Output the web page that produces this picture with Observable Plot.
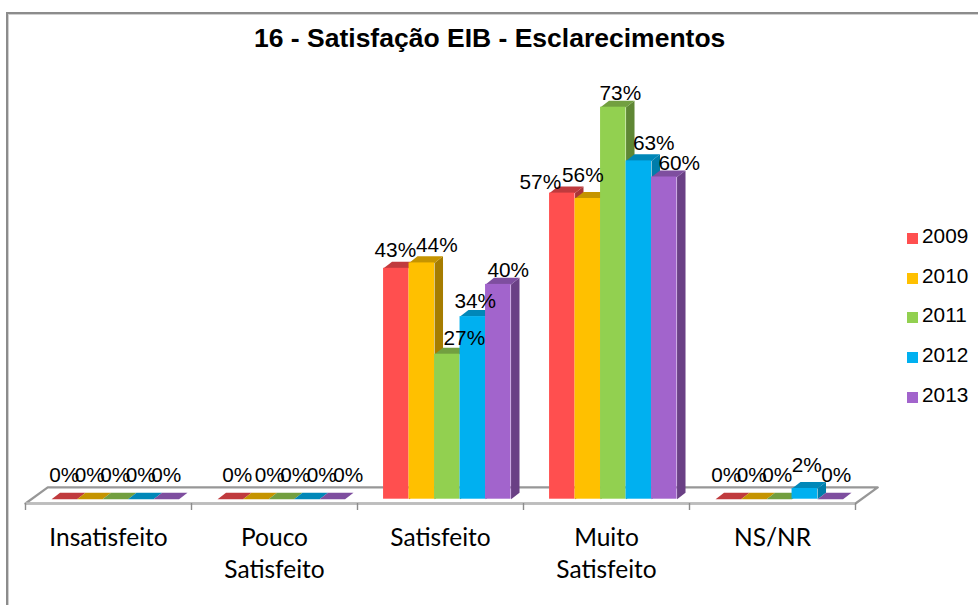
<!DOCTYPE html>
<html><head><meta charset="utf-8">
<script src="https://cdn.jsdelivr.net/npm/d3@7"></script>
<script src="https://cdn.jsdelivr.net/npm/@observablehq/plot@0.6"></script>
<style>
html,body{margin:0;padding:0;background:#fff;width:978px;height:605px;overflow:hidden}
#frame{position:absolute;left:6px;top:12px;width:980px;height:610px;border:2px solid #8c8c8c;box-sizing:border-box;box-shadow:inset 1px 1px 0 #d0d0d0}
#chart{position:absolute;left:0;top:0}
#title{position:absolute;left:254px;top:23px;font:bold 26.5px "Liberation Sans",Arial,sans-serif;color:#000;white-space:nowrap}
.lg{position:absolute;left:907px;font:20.8px "Liberation Sans",Arial,sans-serif;color:#000;height:24px;line-height:24px;white-space:nowrap}
.lg i{display:inline-block;width:11px;height:11px;margin-right:4px;vertical-align:-0.5px}
</style></head><body>
<div id="frame"></div>
<div id="chart"></div>
<div id="title">16 - Satisfação EIB - Esclarecimentos</div>
<div id="legend"></div>
<script>
const categories = ["Insatisfeito","Pouco\nSatisfeito","Satisfeito","Muito\nSatisfeito","NS/NR"];
const years = ["2009","2010","2011","2012","2013"];
const v2009 = [0,0,43,57,0];
const v2010 = [0,0,44,56,0];
const v2011 = [0,0,27,73,0];
const v2012 = [0,0,34,63,2];
const v2013 = [0,0,40,60,0];
const seriesValues = [v2009,v2010,v2011,v2012,v2013];

// styling
const front = ["#FF4F4F","#FFC000","#92D050","#00B0F0","#A264CC"];
const top3d = ["#C03A3D","#C59400","#729F40","#0087B8","#7E4E9F"];
const side3d = ["#A83538","#A67C00","#5F8734","#007DAA","#6A4085"];
// hand-placed data label nudges in the original (px), per category then series
const nudgeX = [[0,0,0,0,0],[7,14,14,15,16],[-1,15,17,2.5,10],[-22,-5,7,15,15],[-2,-2,-2,2,6]];
const nudgeY = [[-17,-17,-17,-17,-17],[-17,-17,-17,-17,-17],[-11,-10.7,-9.7,-8.3,-7],[-4.6,-16,-6.7,-10.4,-7.5],[-17,-17,-17,-16,-17]];

const labelSize = 20.8;
const pad = 0.157, bw = 0.1536, depthX = 0.051, depthY = 1.22;
const floorFront = -0.8, floorBack = 2.2, floorDepth = 0.134, tickEnd = -2.1;

const bars = [];
seriesValues.forEach((vals,s)=>vals.forEach((v,c)=>{
  const x1 = c+pad+s*bw, x2 = x1+bw;
  bars.push({c,s,v,x1,x2,label:v+"%",cx:(x1+x2)/2,
    dx:nudgeX[c][s],dy:nudgeY[c][s]-0.32*labelSize});
}));
const poly = (b,kind)=>{
  const {x1,x2,v}=b;
  const pts = kind==="top"
    ? [[x1,v],[x2,v],[x2+depthX,v+depthY],[x1+depthX,v+depthY],[x1,v]]
    : [[x2,0],[x2+depthX,depthY],[x2+depthX,v+depthY],[x2,v],[x2,0]];
  return pts.map(([x,y])=>({x,y,id:b.c}));
};
const barMarks = years.flatMap((y,s)=>{
  const bs = bars.filter(b=>b.s===s);
  return [
    Plot.line(bs.filter(b=>b.v>0).flatMap(b=>poly(b,"side")),{x:"x",y:"y",z:"id",fill:side3d[s],stroke:"none"}),
    Plot.line(bs.flatMap(b=>poly(b,"top")),{x:"x",y:"y",z:"id",fill:top3d[s],stroke:"none"}),
    Plot.rect(bs.filter(b=>b.v>0),{x1:"x1",x2:"x2",y1:0,y2:"v",fill:front[s]})
  ];
});
const floor = [[0,floorFront],[5,floorFront],[5+floorDepth,floorBack],[floorDepth,floorBack],[0,floorFront]].map(([x,y])=>({x,y}));

const plot = Plot.plot({
  width:978,height:605,
  marginLeft:25,marginRight:123,marginTop:15.4,marginBottom:106.3,
  x:{domain:[0,5],axis:null},
  y:{domain:[0,90],axis:null},
  style:{background:"transparent",overflow:"visible"},
  marks:[
    Plot.line(floor,{x:"x",y:"y",stroke:"#979797",strokeWidth:2.2,fill:"#fff"}),
    Plot.ruleY([floorFront],{x1:0,x2:5,stroke:"#bdbdbd",strokeWidth:2.4}),
    Plot.ruleX(d3.range(6),{y1:floorFront,y2:tickEnd,stroke:"#8c8c8c",strokeWidth:1.4}),
    ...barMarks,
    Plot.text(bars,{x:"cx",y:"v",text:"label",fontSize:labelSize,fontFamily:"Liberation Sans, Arial, sans-serif",fill:"#000",
      render(index,scales,values,dims,ctx,next){
        const g=next(index,scales,values,dims,ctx);
        d3.select(g).selectAll("text").each(function(){
          const i=+this.__data__;
          this.setAttribute("transform",`translate(${values.x[i]+bars[i].dx},${values.y[i]+bars[i].dy})`);
        });
        return g;
      }}),
    Plot.text(categories,{x:(d,i)=>i+0.5,y:tickEnd,text:d=>d,lineAnchor:"top",dy:13,lineHeight:1.306,fontSize:24.5,fontFamily:"Lato, Carlito, sans-serif",fill:"#000"})
  ]
});
document.getElementById("chart").append(plot);

const legendTop = [224,264,303,343,383];
const lg = document.getElementById("legend");
years.forEach((y,i)=>{
  const d=document.createElement("div");d.className="lg";d.style.top=legendTop[i]+"px";
  const sw=document.createElement("i");sw.style.background=front[i];
  d.append(sw,y);lg.append(d);
});
</script>
</body></html>
